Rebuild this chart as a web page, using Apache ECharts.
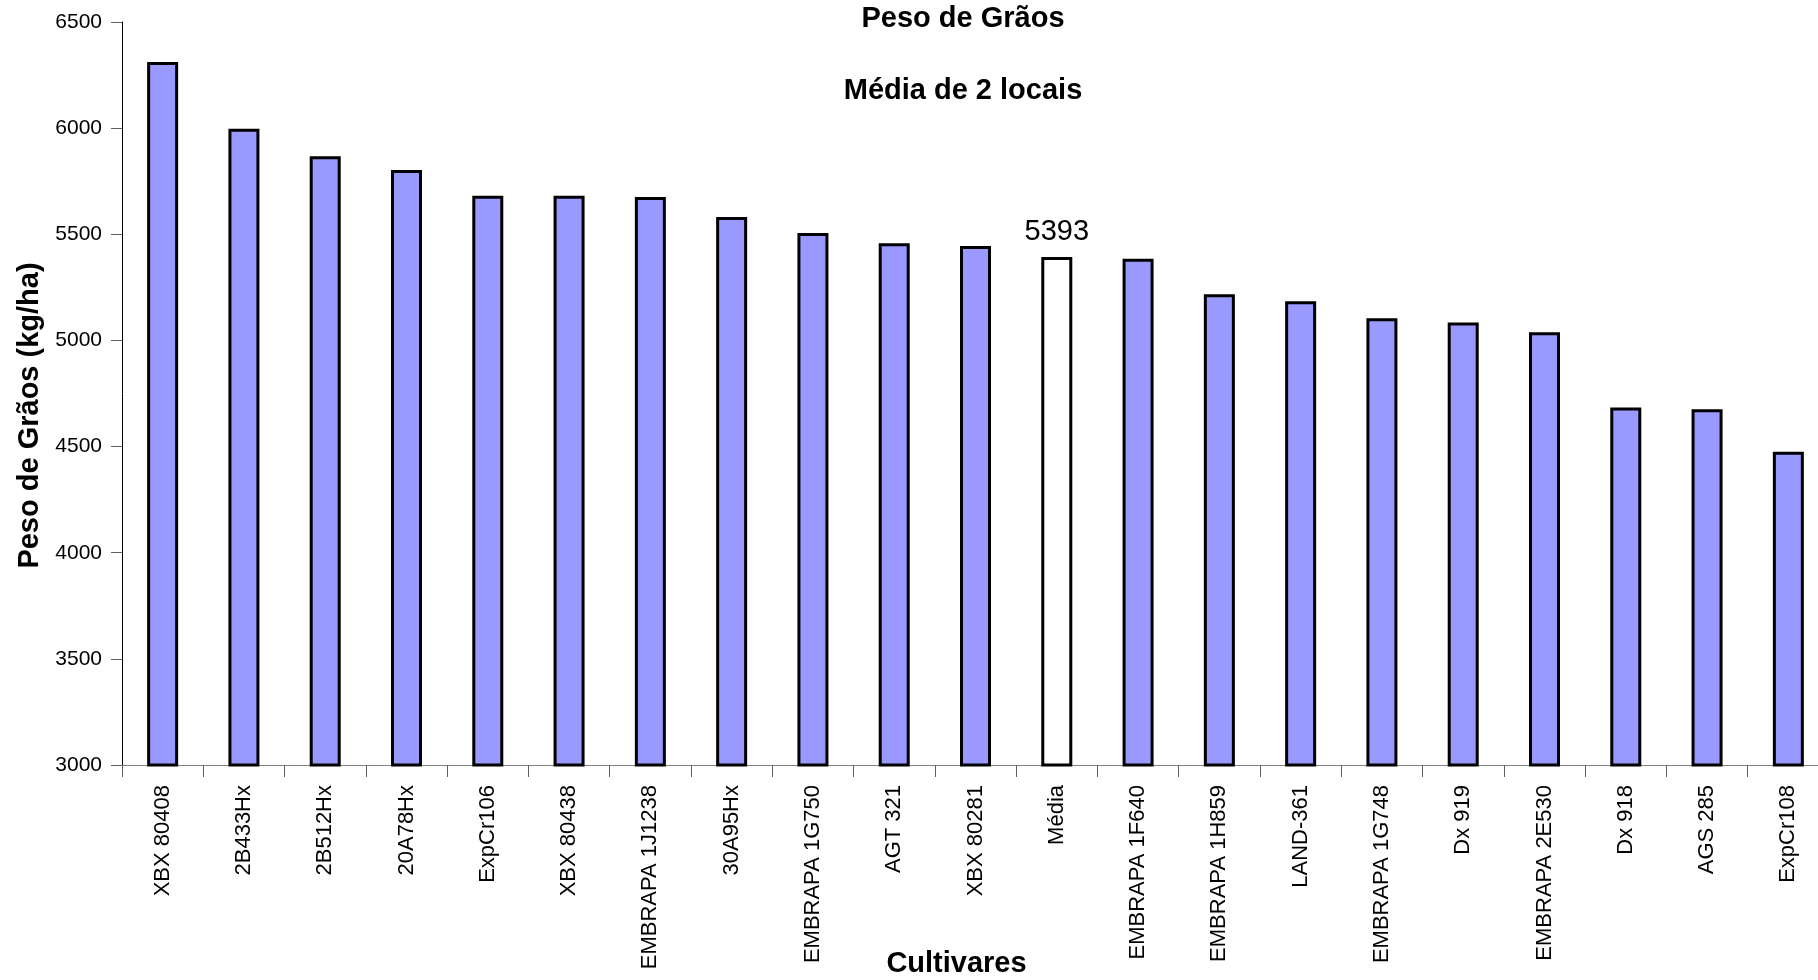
<!DOCTYPE html>
<html>
<head>
<meta charset="utf-8">
<script src="https://cdn.jsdelivr.net/npm/echarts@6/dist/echarts.min.js"></script>
<style>
html,body{margin:0;padding:0;background:#fff;overflow:hidden;}
#c{width:1818px;height:980px;}
</style>
</head>
<body>
<div id="c"></div>
<script>
const categories = ['XBX 80408','2B433Hx','2B512Hx','20A78Hx','ExpCr106','XBX 80438','EMBRAPA 1J1238','30A95Hx','EMBRAPA 1G750','AGT 321','XBX 80281','Média','EMBRAPA 1F640','EMBRAPA 1H859','LAND-361','EMBRAPA 1G748','Dx 919','EMBRAPA 2E530','Dx 918','AGS 285','ExpCr108'];
const values = [6311,5997,5868,5803,5681,5681,5676,5582,5506,5458,5445,5393,5385,5218,5184,5104,5085,5038,4684,4676,4476];
const meanName = 'Média';
const yTicks = {min:3000, max:6500, interval:500};
const titleText = 'Peso de Grãos';
const subtitleText = 'Média de 2 locais';
const yName = 'Peso de Grãos (kg/ha)';
const xName = 'Cultivares';

const FONT = '"Liberation Sans", Arial, sans-serif';
const chart = echarts.init(document.getElementById('c'), null, {renderer:'canvas'});

const seriesData = values.map((v,i)=>{
  if (categories[i] === meanName) {
    return {value:v, itemStyle:{color:'#ffffff'}, label:{show:true}};
  }
  return {value:v};
});

chart.setOption({
  animation:false,
  backgroundColor:'#ffffff',
  title:[
    {text:titleText, left:958, top:-1, textAlign:'center',
     textStyle:{fontFamily:FONT, fontSize:29, fontWeight:'bold', color:'#000'}},
    {text:subtitleText, left:958, top:71, textAlign:'center',
     textStyle:{fontFamily:FONT, fontSize:29, fontWeight:'bold', color:'#000'}}
  ],
  grid:{left:122, right:-11, top:22, bottom:215, containLabel:false, outerBoundsMode:'none'},
  xAxis:{
    type:'category',
    data:categories,
    boundaryGap:true,
    name:xName,
    nameLocation:'middle',
    nameGap:184,
    nameMoveOverlap:false,
    nameTextStyle:{fontFamily:FONT, fontSize:29, fontWeight:'bold', color:'#000', padding:[0,38,0,0]},
    axisLine:{lineStyle:{color:'#808080', width:1}},
    axisTick:{show:true, alignWithLabel:false, length:12, lineStyle:{color:'#606060'}},
    axisLabel:{rotate:90, interval:0, margin:20, fontFamily:FONT, fontSize:22, color:'#000'},
    splitLine:{show:false}
  },
  yAxis:{
    type:'value',
    min:yTicks.min, max:yTicks.max, interval:yTicks.interval,
    name:yName,
    nameLocation:'middle',
    nameGap:78,
    nameMoveOverlap:false,
    nameTextStyle:{fontFamily:FONT, fontSize:29, fontWeight:'bold', color:'#000', padding:[0,44,0,0]},
    axisLine:{show:true, lineStyle:{color:'#000', width:1}},
    axisTick:{show:true, length:11, lineStyle:{color:'#606060'}},
    axisLabel:{margin:20, fontFamily:FONT, fontSize:21, color:'#000', formatter:(v)=>String(v)},
    splitLine:{show:false}
  },
  series:[{
    type:'bar',
    data:seriesData,
    barWidth:31,
    itemStyle:{color:'#9999FF', borderColor:'#000', borderWidth:3},
    label:{show:false, position:'top', distance:11, fontFamily:FONT, fontSize:29, color:'#000'}
  }]
});
</script>
</body>
</html>
